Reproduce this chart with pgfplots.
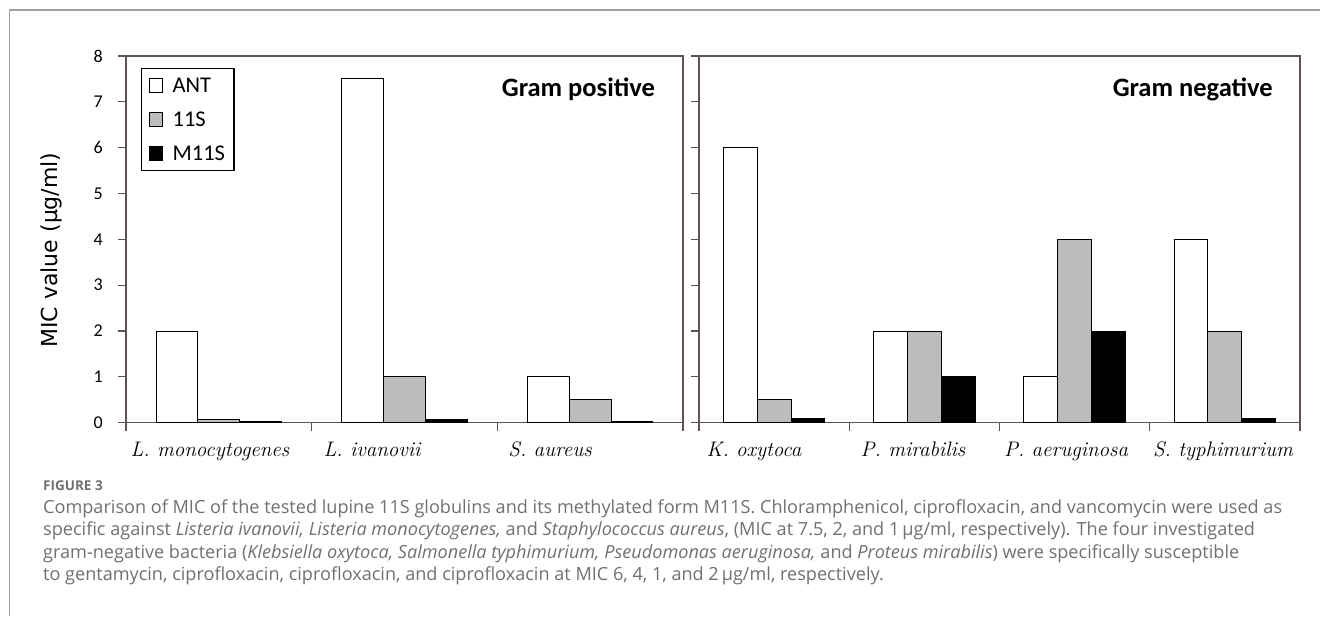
\documentclass[border=0pt]{standalone}
\usepackage{pgfplots}
\pgfplotsset{compat=1.18}
\usepackage{fontspec}
\newfontfamily\carlito{Carlito}
\newfontfamily\dejavu{DejaVu Sans}
\newfontfamily\opensans{Open Sans}
\definecolor{axcol}{RGB}{95,82,82}
\definecolor{grayS}{RGB}{188,188,188}
\definecolor{capgray}{RGB}{112,112,112}
\definecolor{framegray}{RGB}{160,160,160}

\pgfplotsset{
  mic/.style={
    scale only axis, height=366.7pt, anchor=south west,
    ymin=0, ymax=8, ytick={0,...,8}, minor ytick={0,...,8},
    ybar, bar width=0.225,
    axis line style={axcol, line width=1.2pt},
    tick style={axcol, line width=1.2pt},
    tick align=outside, major tick length=0pt, minor tick length=8pt,
    xtick pos=bottom, ytick pos=left,
    xticklabel style={anchor=base, inner sep=0pt, yshift=-34pt,
      font=\fontsize{21}{21}\selectfont\itshape},
    yticklabel style={anchor=east, inner sep=0pt, xshift=-23pt,
      font=\carlito\fontsize{18}{18}\selectfont},
    /pgf/number format/assume math mode=true,
    legend image code/.code={\draw[##1] (0pt,-7pt) rectangle (13pt,7pt); \path (21pt,0pt);},
  },
  antS/.style={fill=white, draw=black, line width=1pt, bar shift=-0.225},
  sS/.style={fill=grayS, draw=black, line width=1pt, bar shift=0},
  mS/.style={fill=black, draw=black, line width=1pt, bar shift=0.225},
}

\begin{document}
\begin{tikzpicture}[x=1pt,y=1pt]
\useasboundingbox (0,0) rectangle (1320,616);
\draw[framegray, line width=1.5pt] (9.5,0) -- (9.5,606) -- (1320,606);

% Gram positive
\begin{axis}[mic, at={(126pt,193.3pt)}, width=557pt,
  xmin=0.5, xmax=3.5,
  xtick={0.952,1.825,2.784},
  xticklabels={L. monocytogenes, L. ivanovii, S. aureus},
  minor xtick={0.5,1.5,2.5,3.5},
  ylabel={\dejavu\fontsize{22}{22}\selectfont MIC value (µg/ml)},
  ylabel style={at={(axis description cs:-0.1347,0.471)}, anchor=center, inner sep=0pt},
  legend cell align=left,
  legend style={at={(axis description cs:0.027,0.967)}, anchor=north west,
    draw=black, line width=1.2pt, inner xsep=7pt, inner ysep=7pt, row sep=14pt,
    font=\carlito\fontsize{22.5}{22.5}\selectfont},
]
\addplot[antS] coordinates {(1,2) (2,7.5) (3,1)};
\addlegendentry{ANT}
\addplot[sS] coordinates {(1,0.08) (2,1) (3,0.5)};
\addlegendentry{11S}
\addplot[mS] coordinates {(1,0.03) (2,0.06) (3,0.03)};
\addlegendentry{M11S}
\node[anchor=east, inner sep=0pt, font=\carlito\bfseries\fontsize{26.5}{26.5}\selectfont]
  at (axis description cs:0.95,0.91) {Gram positive};
\end{axis}

% Gram negative
\begin{axis}[mic, at={(699pt,193.3pt)}, width=601pt,
  xmin=0.5, xmax=4.5,
  xtick={0.866,1.924,2.943,3.988},
  xticklabels={K. oxytoca, P. mirabilis, P. aeruginosa, S. typhimurium},
  minor xtick={0.5,1.5,2.5,3.5,4.5},
  yticklabels={},
]
\addplot[antS] coordinates {(1,6) (2,2) (3,1) (4,4)};
\addplot[sS] coordinates {(1,0.5) (2,2) (3,4) (4,2)};
\addplot[mS] coordinates {(1,0.1) (2,1) (3,2) (4,0.1)};
\node[anchor=east, inner sep=0pt, font=\carlito\bfseries\fontsize{26.5}{26.5}\selectfont]
  at (axis description cs:0.955,0.91) {Gram negative};
\end{axis}

% caption
\begin{scope}[every node/.style={anchor=base west, inner sep=0pt, text=capgray}]
\node[font=\opensans\bfseries\fontsize{13.5}{13.5}\selectfont] at (43,125.5) {FIGURE 3};
\node[font=\opensans\fontsize{18.1}{18.1}\selectfont] at (43,102.5) {Comparison of MIC of the tested lupine 11S globulins and its methylated form M11S. Chloramphenicol, ciprofloxacin, and vancomycin were used as};
\node[font=\opensans\fontsize{18.1}{18.1}\selectfont] at (43,80.5) {specific against \textit{Listeria ivanovii, Listeria monocytogenes,} and \textit{Staphylococcus aureus}, (MIC at 7.5, 2, and 1\,µg/ml, respectively). The four investigated};
\node[font=\opensans\fontsize{18.1}{18.1}\selectfont] at (43,57.5) {gram-negative bacteria (\textit{Klebsiella oxytoca, Salmonella typhimurium, Pseudomonas aeruginosa,} and \textit{Proteus mirabilis}) were specifically susceptible};
\node[font=\opensans\fontsize{18.1}{18.1}\selectfont] at (43,35.5) {to gentamycin, ciprofloxacin, ciprofloxacin, and ciprofloxacin at MIC 6, 4, 1, and 2\,µg/ml, respectively.};
\end{scope}
\end{tikzpicture}
\end{document}
